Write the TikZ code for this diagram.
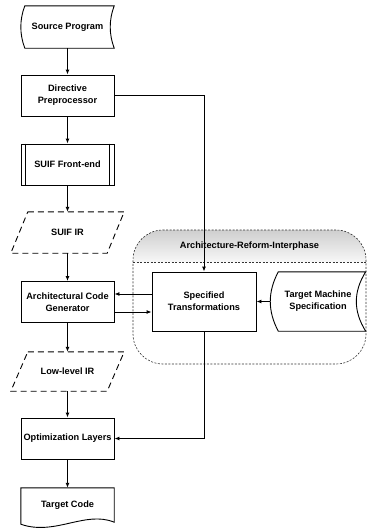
\documentclass[tikz,border=0pt]{standalone}
\usepackage{fontspec}
\setsansfont{Liberation Sans}
\usetikzlibrary{arrows.meta,calc}
\begin{document}
\begin{tikzpicture}[x=1pt,y=-1pt,
  lbl/.style={font=\sffamily\bfseries\fontsize{9.2}{12}\selectfont, align=center, inner sep=0pt},
  frame/.style={lbl, minimum width=93pt, minimum height=41pt},
  box/.style={frame, draw, line width=0.9pt},
  outl/.style={line width=0.9pt},
  para/.style={line width=0.9pt, dash pattern=on 6pt off 4pt},
  cont/.style={line width=0.6pt, draw=black!80, dash pattern=on 2pt off 1.5pt},
  arr/.style={line width=0.9pt, -{Latex[length=5pt,width=4pt]}}
]
\useasboundingbox (0,0) rectangle (368,530);

% container header shading
\shade[top color=gray!38, bottom color=gray!6] (133,262) -- (133,260) .. controls (133,243.4) and (146.4,230) .. (163,230) -- (336,230) .. controls (352.6,230) and (366,243.4) .. (366,260) -- (366,262) -- cycle;
\node[cont, draw, rounded corners=30pt, minimum width=233pt, minimum height=134pt, inner sep=0pt] (arp) at (249.5,297) {};
\coordinate (sepl) at (133,262);
\coordinate (sepr) at (366,262);
\draw[cont] (sepl) -- (sepr);
\node[lbl] (ttl) at (249.5,246) {Architecture-Reform-Interphase};

% left column
\node[frame, minimum height=42pt] (sp) at (67.5,27) {Source Program};
\draw[outl] ($(sp.north west)+(4,0)$) -- (sp.north east)
  .. controls ($(sp.north east)+(-5.3,14)$) and ($(sp.south east)+(-5.3,-14)$) .. (sp.south east)
  -- ($(sp.south west)+(4,0)$)
  .. controls ($(sp.south west)+(-1.3,-14)$) and ($(sp.north west)+(-1.3,14)$) .. ($(sp.north west)+(4,0)$) -- cycle;

\node[box] (dp) at (67.5,95.5) {Directive\\Preprocessor};

\node[box] (fe) at (67.5,164.5) {SUIF Front-end};
\draw[outl] ($(fe.north west)+(5,0)$) -- ($(fe.south west)+(5,0)$);
\draw[outl] ($(fe.north east)+(-5,0)$) -- ($(fe.south east)+(-5,0)$);

\node[frame, minimum width=113pt] (sir) at (67.5,232.5) {SUIF IR};
\draw[para] ($(sir.north west)+(17,0)$) -- (sir.north east) -- ($(sir.south east)+(-17,0)$) -- (sir.south west) -- cycle;

\node[box] (acg) at (67.5,302) {Architectural Code\\Generator};

\node[frame, minimum width=113pt, minimum height=39pt] (lir) at (67.5,371.5) {Low-level IR};
\draw[para] ($(lir.north west)+(17,0)$) -- (lir.north east) -- ($(lir.south east)+(-17,0)$) -- (lir.south west) -- cycle;

\node[box] (ol) at (67.5,438.5) {Optimization Layers};

\node[frame, minimum height=34pt] (tc) at (67.5,505) {Target Code};
\draw[outl] (tc.north west) -- (tc.north east) -- (tc.south east)
  .. controls ($(tc.south east)+(-29,-12)$) and ($(tc.south west)+(34,14)$) .. ($(tc.south west)+(0,2)$) -- cycle;

% right part
\node[box, minimum width=104pt, minimum height=59pt] (st) at (204,301.5) {Specified\\Transformations};
\node[frame, minimum width=95pt, minimum height=59pt] (tms) at (318,301.5) {Target Machine\\Specification};
\draw[outl] ($(tms.north west)+(8,0)$) -- (tms.north east)
  .. controls ($(tms.north east)+(-12.5,20)$) and ($(tms.south east)+(-12.5,-20)$) .. (tms.south east)
  -- ($(tms.south west)+(8,0)$)
  .. controls ($(tms.south west)+(-2.7,-20)$) and ($(tms.north west)+(-2.7,20)$) .. ($(tms.north west)+(8,0)$) -- cycle;

% connectors
\draw[arr] (sp.south) -- (dp.north);
\draw[arr] (dp.south) -- (fe.north);
\draw[arr] (fe.south) -- (sir.north);
\draw[arr] (sir.south) -- (acg.north);
\draw[arr] (acg.south) -- (lir.north);
\draw[arr] (lir.south) -- (ol.north);
\draw[arr] (ol.south) -- (tc.north);
\draw[arr] (dp.east) -| (st.north);
\coordinate (a1) at ($(st.west)+(0,-7.5)$);
\draw[arr] (a1) -- (a1 -| acg.east);
\coordinate (a2) at ($(acg.east)+(0,10)$);
\draw[arr] (a2) -- (a2 -| st.west);
\draw[arr] (tms.west) -- (st.east);
\draw[arr] (st.south) |- (ol.east);
\end{tikzpicture}
\end{document}
